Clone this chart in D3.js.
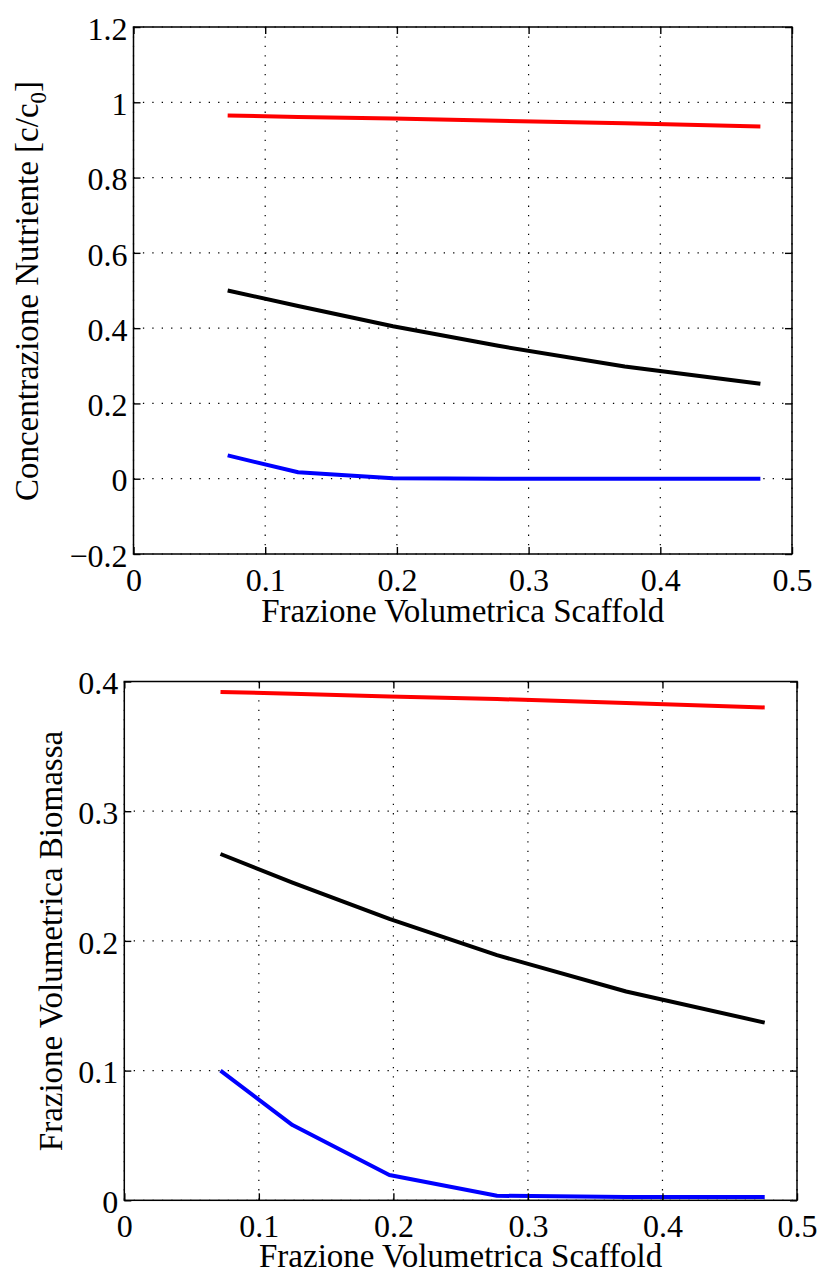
<!DOCTYPE html>
<html>
<head>
<meta charset="utf-8">
<script src="https://cdn.jsdelivr.net/npm/d3@7"></script>
<style>
  html, body { margin: 0; padding: 0; background: #fff; }
  svg { display: block; }
  text { font-family: "Liberation Serif", "Times New Roman", serif; fill: #000; }
</style>
</head>
<body>
<svg id="chart" width="820" height="1272"></svg>
<script>
// ---- data ----
const xScaffold = [0.0715, 0.125, 0.197, 0.277, 0.373, 0.476];

const concRed   = [0.965, 0.961, 0.957, 0.951, 0.944, 0.936];
const concBlack = [0.500, 0.459, 0.405, 0.353, 0.298, 0.252];
const concBlue  = [0.062, 0.017, 0.001, 0.000, 0.000, 0.000];

const bioRed    = [0.392, 0.3905, 0.3885, 0.3865, 0.3835, 0.380];
const bioBlack  = [0.267, 0.245, 0.217, 0.189, 0.161, 0.137];
const bioBlue   = [0.100, 0.058, 0.0195, 0.0035, 0.0025, 0.0025];

const xTicks = [0, 0.1, 0.2, 0.3, 0.4, 0.5];
const xTickLabels = ["0", "0.1", "0.2", "0.3", "0.4", "0.5"];
const concTicks = [-0.2, 0, 0.2, 0.4, 0.6, 0.8, 1.0, 1.2];
const concTickLabels = ["\u22120.2", "0", "0.2", "0.4", "0.6", "0.8", "1", "1.2"];
const bioTicks = [0, 0.1, 0.2, 0.3, 0.4];
const bioTickLabels = ["0", "0.1", "0.2", "0.3", "0.4"];

const xTitle = "Frazione Volumetrica Scaffold";
const concTitle = "Concentrazione Nutriente [c/c";
const concTitleSub = "0";
const concTitleEnd = "]";
const bioTitle = "Frazione Volumetrica Biomassa";

const seriesColors = ["#ff0000", "#000000", "#0000ff"];

// ---- drawing ----
const svg = d3.select("#chart");
svg.append("rect").attr("width", 820).attr("height", 1272).attr("fill", "#fff");

const FONT = 32;
const TITLE_FONT = 33;

function panel(opts) {
  const { left, right, top, bottom, yDomain, yTicks, yLabels, series } = opts;
  const x = d3.scaleLinear().domain([0, 0.5]).range([left, right]);
  const y = d3.scaleLinear().domain(yDomain).range([bottom, top]);
  const g = svg.append("g");

  // grid
  const grid = g.append("g").attr("stroke", "#000").attr("stroke-width", 1.2)
    .attr("stroke-dasharray", "1.3,8.1");
  grid.selectAll("line.v").data(xTicks).join("line")
    .attr("x1", d => x(d)).attr("x2", d => x(d))
    .attr("y1", top).attr("y2", bottom);
  grid.selectAll("line.h").data(yTicks).join("line")
    .attr("y1", d => y(d)).attr("y2", d => y(d))
    .attr("x1", left).attr("x2", right);

  // series
  const line = d3.line().x((d, i) => x(xScaffold[i])).y(d => y(d));
  series.forEach((s, k) => {
    g.append("path").datum(s)
      .attr("fill", "none")
      .attr("stroke", seriesColors[k])
      .attr("stroke-width", 4)
      .attr("stroke-linejoin", "round")
      .attr("d", line);
  });

  // axes
  const fmtX = (d, i) => xTickLabels[i];
  const fmtY = (d, i) => yLabels[i];

  const ax = g.append("g").attr("transform", `translate(0,${bottom})`)
    .call(d3.axisBottom(x).tickValues(xTicks).tickFormat(fmtX).tickSize(-7).tickSizeOuter(0));
  ax.selectAll("text").attr("y", 0).attr("dy", 36.5);

  const ay = g.append("g").attr("transform", `translate(${left},0)`)
    .call(d3.axisLeft(y).tickValues(yTicks).tickFormat(fmtY).tickSize(-7).tickSizeOuter(0));
  ay.selectAll("text").attr("x", -6).attr("dy", "0.38em");

  g.append("g").attr("transform", `translate(0,${top})`)
    .call(d3.axisTop(x).tickValues(xTicks).tickFormat("").tickSize(-7).tickSizeOuter(0));
  g.append("g").attr("transform", `translate(${right},0)`)
    .call(d3.axisRight(y).tickValues(yTicks).tickFormat("").tickSize(-7).tickSizeOuter(0));

  g.selectAll(".domain").remove();
  g.selectAll(".tick line").attr("stroke", "#000").attr("stroke-width", 1.4);
  g.selectAll(".tick text").style("font-family", '"Liberation Serif", serif')
    .style("font-size", FONT + "px").attr("fill", "#000");

  g.append("rect")
    .attr("x", left).attr("y", top)
    .attr("width", right - left).attr("height", bottom - top)
    .attr("fill", "none").attr("stroke", "#000").attr("stroke-width", 1.5);

  return { g, x, y };
}

// top panel
const p1 = panel({
  left: 133.5, right: 792, top: 27, bottom: 554,
  yDomain: [-0.2, 1.2], yTicks: concTicks, yLabels: concTickLabels,
  series: [concRed, concBlack, concBlue]
});
p1.g.append("text")
  .attr("x", (133.5 + 792) / 2).attr("y", 622)
  .attr("text-anchor", "middle").style("font-size", TITLE_FONT + "px")
  .text(xTitle);
const t1 = p1.g.append("text")
  .attr("transform", "translate(38,291) rotate(-90)")
  .attr("text-anchor", "middle").style("font-size", TITLE_FONT + "px");
t1.append("tspan").text(concTitle);
t1.append("tspan").attr("dy", 8).style("font-size", "23px").text(concTitleSub);
t1.append("tspan").attr("dy", -8).text(concTitleEnd);

// bottom panel
const p2 = panel({
  left: 124.3, right: 797, top: 681.5, bottom: 1200.3,
  yDomain: [0, 0.4], yTicks: bioTicks, yLabels: bioTickLabels,
  series: [bioRed, bioBlack, bioBlue]
});
p2.g.append("text")
  .attr("x", (124.3 + 797) / 2).attr("y", 1266.5)
  .attr("text-anchor", "middle").style("font-size", TITLE_FONT + "px")
  .text(xTitle);
p2.g.append("text")
  .attr("transform", "translate(62,941) rotate(-90)")
  .attr("text-anchor", "middle").style("font-size", TITLE_FONT + "px")
  .text(bioTitle);
</script>
</body>
</html>
